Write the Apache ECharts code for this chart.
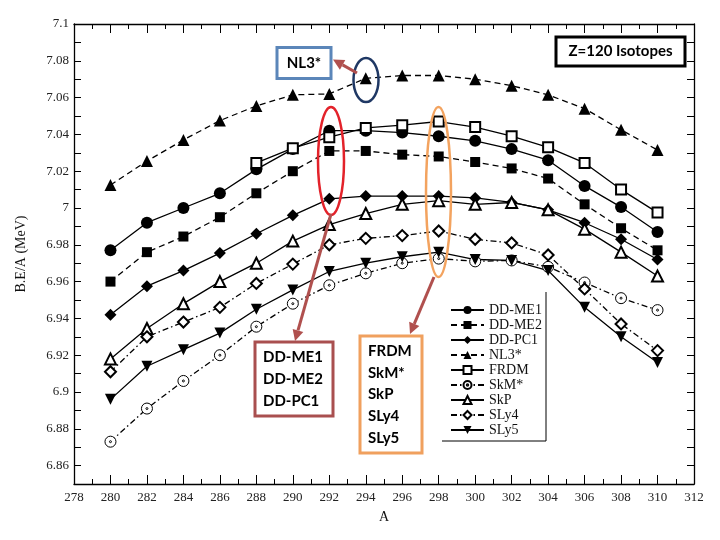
<!DOCTYPE html>
<html>
<head>
<meta charset="utf-8">
<title>Z=120 Isotopes</title>
<script src="https://cdn.jsdelivr.net/npm/echarts@6/dist/echarts.min.js"></script>
<style>
  html, body { margin: 0; padding: 0; background: #fff; }
  #chart { width: 720px; height: 540px; }
</style>
</head>
<body>
<div id="chart"></div>
<script>
// mass numbers A (even isotopes)
var massNumbers = [280, 282, 284, 286, 288, 290, 292, 294, 296, 298, 300, 302, 304, 306, 308, 310];
var frdmMass = [288, 290, 292, 294, 296, 298, 300, 302, 304, 306, 308, 310];

// binding energy per nucleon, MeV
var ddme1 = [6.977, 6.992, 7.000, 7.008, 7.021, 7.032, 7.042, 7.042, 7.041, 7.039, 7.0365, 7.032, 7.026, 7.012, 7.0005, 6.987];
var ddme2 = [6.960, 6.976, 6.9845, 6.995, 7.008, 7.020, 7.031, 7.031, 7.029, 7.028, 7.025, 7.0215, 7.016, 7.002, 6.989, 6.977];
var ddpc1 = [6.942, 6.9575, 6.966, 6.9755, 6.986, 6.996, 7.005, 7.0065, 7.0065, 7.0065, 7.0055, 7.003, 6.999, 6.992, 6.983, 6.972];
var nl3 = [7.0125, 7.0255, 7.037, 7.0475, 7.0555, 7.0615, 7.062, 7.0705, 7.072, 7.072, 7.070, 7.0665, 7.0615, 7.054, 7.0425, 7.0315];
var frdm = [7.0245, 7.0325, 7.0385, 7.0435, 7.045, 7.047, 7.044, 7.039, 7.033, 7.0245, 7.010, 6.9975];
var skm = [6.873, 6.891, 6.906, 6.920, 6.9355, 6.948, 6.958, 6.9645, 6.970, 6.9725, 6.971, 6.9715, 6.968, 6.9595, 6.951, 6.9445];
var skp = [6.918, 6.9345, 6.948, 6.960, 6.970, 6.982, 6.991, 6.997, 7.002, 7.004, 7.002, 7.003, 6.999, 6.9885, 6.976, 6.963];
var sly4 = [6.911, 6.930, 6.938, 6.946, 6.959, 6.9695, 6.980, 6.9835, 6.985, 6.9875, 6.983, 6.981, 6.9745, 6.956, 6.937, 6.9225];
var sly5 = [6.896, 6.914, 6.923, 6.932, 6.945, 6.9555, 6.9655, 6.970, 6.9735, 6.976, 6.972, 6.9715, 6.966, 6.946, 6.930, 6.916];

var seriesNames = ['DD-ME1', 'DD-ME2', 'DD-PC1', 'NL3*', 'FRDM', 'SkM*', 'SkP', 'SLy4', 'SLy5'];

var myChart = echarts.init(document.getElementById('chart'));

function pairs(xs, ys) {
  return xs.map(function (x, i) { return [x, ys[i]]; });
}

var dashed = [6, 4];
var dashDot = [6, 3, 1.5, 3];
var dotCircle = 'path://M10,0A10,10,0,1,1,-10,0A10,10,0,1,1,10,0ZM1.8,0A1.8,1.8,0,1,1,-1.8,0A1.8,1.8,0,1,1,1.8,0Z';

function line(name, data, symbol, size, type, opts) {
  var s = {
    name: name,
    type: 'line',
    data: data,
    symbol: symbol,
    symbolSize: size,
    showAllSymbol: true,
    animation: false,
    lineStyle: { color: '#000', width: 1.3, type: type },
    itemStyle: { color: '#000' }
  };
  for (var k in opts) s[k] = opts[k];
  return s;
}

// arrow as line + head
function arrow(x1, y1, x2, y2, color) {
  var dx = x2 - x1, dy = y2 - y1;
  var len = Math.sqrt(dx * dx + dy * dy);
  var ux = dx / len, uy = dy / len;
  var hl = 11, hw = 5.5;
  var bx = x2 - ux * hl, by = y2 - uy * hl;
  return [
    { type: 'line', shape: { x1: x1, y1: y1, x2: bx, y2: by }, style: { stroke: color, lineWidth: 3 }, z: 100 },
    { type: 'polygon', shape: { points: [[x2, y2], [bx - uy * hw, by + ux * hw], [bx + uy * hw, by - ux * hw]] },
      style: { fill: color }, z: 100 }
  ];
}

function box(x, y, w, h, color, text, lh, align) {
  return {
    type: 'group', z: 100,
    children: [
      { type: 'rect', shape: { x: x, y: y, width: w, height: h }, style: { fill: '#fff', stroke: color, lineWidth: 3 } },
      { type: 'text', x: align === 'left' ? x + 8 : x + w / 2, y: y + h / 2,
        style: { text: text, fill: '#000', font: 'bold 15px Lato, "Open Sans", sans-serif',
          align: align || 'center', verticalAlign: 'middle', lineHeight: lh || 18 } }
    ]
  };
}

var arrowColor = '#b0504e';
var graphics = [
  { type: 'ellipse', shape: { cx: 366, cy: 80, rx: 12.5, ry: 22 }, style: { fill: null, stroke: '#1f3864', lineWidth: 2.5 }, z: 100 },
  { type: 'ellipse', shape: { cx: 331, cy: 161, rx: 13, ry: 54 }, style: { fill: null, stroke: '#e3222a', lineWidth: 2.5 }, z: 100 },
  { type: 'ellipse', shape: { cx: 438.5, cy: 192, rx: 12.5, ry: 85 }, style: { fill: null, stroke: '#f3a35f', lineWidth: 2.5 }, z: 100 },
  box(277, 47.5, 54, 31, '#5b86b9', 'NL3*'),
  box(556, 37, 129, 29, '#000', 'Z=120 Isotopes'),
  box(255, 342, 78, 74, '#a94f4f', 'DD-ME1\nDD-ME2\nDD-PC1', 22, 'left'),
  box(360, 336, 62, 117, '#f0a05e', 'FRDM\nSkM*\nSkP\nSLy4\nSLy5', 21.8, 'left'),
  { type: 'polyline', shape: { points: [[546, 292], [546, 441], [442, 441]] }, style: { fill: null, stroke: '#000', lineWidth: 1 }, z: 90 }
].concat(arrow(357, 73, 333, 59.5, arrowColor))
 .concat(arrow(331, 214, 295, 341, arrowColor))
 .concat(arrow(434, 277, 410, 334, arrowColor));

var serif = '"Liberation Serif", "DejaVu Serif", serif';
var axisLine = { lineStyle: { color: '#000', width: 1.3 } };

var option = {
  backgroundColor: '#fff',
  animation: false,
  grid: { left: 74, right: 26, top: 24, bottom: 56 },
  legend: {
    orient: 'vertical',
    left: 445,
    top: 298,
    itemWidth: 33,
    itemHeight: 10,
    itemGap: 1,
    data: seriesNames,
    textStyle: { fontFamily: serif, fontSize: 14, color: '#111', lineHeight: 13.5 }
  },
  xAxis: [{
    type: 'value', min: 278, max: 312, interval: 2,
    name: 'A', nameLocation: 'middle', nameGap: 26,
    nameTextStyle: { fontFamily: serif, fontSize: 14, color: '#111' },
    axisLine: axisLine,
    axisTick: { inside: true, length: 9, lineStyle: { color: '#000' } },
    minorTick: { show: true, splitNumber: 2, length: 5, lineStyle: { color: '#000' } },
    axisLabel: { fontFamily: serif, fontSize: 13, color: '#222', margin: 7 },
    splitLine: { show: false }
  }, {
    type: 'value', min: 278, max: 312, interval: 2, position: 'top',
    axisLine: axisLine,
    axisTick: { inside: true, length: 9, lineStyle: { color: '#000' } },
    minorTick: { show: true, splitNumber: 2, length: 5, lineStyle: { color: '#000' } },
    axisLabel: { show: false },
    splitLine: { show: false }
  }],
  yAxis: [{
    type: 'value', min: 6.85, max: 7.1, interval: 0.01,
    name: 'B.E/A (MeV)', nameLocation: 'middle', nameGap: 46,
    nameTextStyle: { fontFamily: serif, fontSize: 14, color: '#111' },
    axisLine: axisLine,
    axisTick: { inside: true, length: 7, lineStyle: { color: '#000' } },
    axisLabel: {
      fontFamily: serif, fontSize: 13, color: '#222', margin: 5,
      formatter: function (v) {
        var n = Math.round(v * 100);
        return n % 2 === 0 ? String(+(n / 100).toFixed(2)) : '';
      }
    },
    splitLine: { show: false }
  }, {
    type: 'value', min: 6.85, max: 7.1, interval: 0.01, position: 'right',
    axisLine: axisLine,
    axisTick: { inside: true, length: 7, lineStyle: { color: '#000' } },
    axisLabel: { show: false },
    splitLine: { show: false }
  }],
  series: [
    line('DD-ME1', pairs(massNumbers, ddme1), 'circle', 12, 'solid'),
    line('DD-ME2', pairs(massNumbers, ddme2), 'rect', 10, dashed),
    line('DD-PC1', pairs(massNumbers, ddpc1), 'diamond', 12, 'solid'),
    line('NL3*', pairs(massNumbers, nl3), 'triangle', 12, dashed),
    line('FRDM', pairs(frdmMass, frdm), 'emptyRect', 10, 'solid'),
    line('SkM*', pairs(massNumbers, skm), dotCircle, 11, dashDot,
      { itemStyle: { color: '#fff', borderColor: '#000', borderWidth: 1 } }),
    line('SkP', pairs(massNumbers, skp), 'emptyTriangle', 11, 'solid'),
    line('SLy4', pairs(massNumbers, sly4), 'emptyDiamond', 11, dashDot),
    line('SLy5', pairs(massNumbers, sly5), 'triangle', 11, 'solid', { symbolRotate: 180 })
  ],
  graphic: graphics
};

myChart.setOption(option);
</script>
</body>
</html>
